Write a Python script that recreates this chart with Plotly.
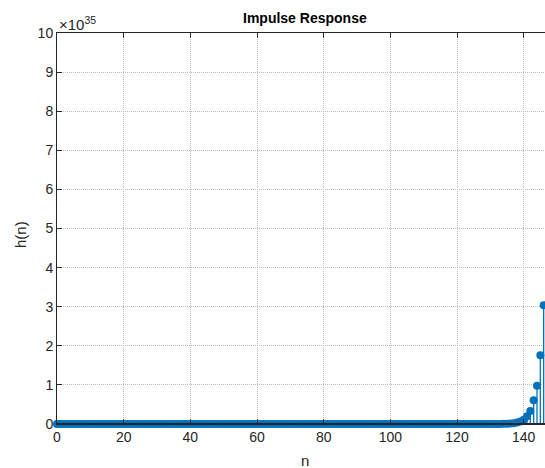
import plotly.graph_objects as go

# sample index n = 0..146
n = list(range(147))

# h(n) in units of 1e35 (early samples are ~0 at this scale)
h_scaled = [
    0, 0, 0, 0, 0, 0, 0, 0, 0, 0, 0, 0, 0, 0, 0,          # 0..14
    0, 0, 0, 0, 0, 0, 0, 0, 0, 0, 0, 0, 0, 0, 0,          # 15..29
    0, 0, 0, 0, 0, 0, 0, 0, 0, 0, 0, 0, 0, 0, 0,          # 30..44
    0, 0, 0, 0, 0, 0, 0, 0, 0, 0, 0, 0, 0, 0, 0,          # 45..59
    0, 0, 0, 0, 0, 0, 0, 0, 0, 0, 0, 0, 0, 0, 0,          # 60..74
    0, 0, 0, 0, 0, 0, 0, 0, 0, 0, 0, 0, 0, 0, 0,          # 75..89
    0, 0, 0, 0, 0, 0, 0, 0, 0, 0, 0, 0, 0, 0, 0,          # 90..104
    0, 0, 0, 0, 0, 0, 0, 0, 0, 0, 0, 0, 0, 0, 0,          # 105..119
    0, 0, 0, 0, 0, 0, 0, 0, 0, 0, 0, 0, 0, 0.002, 0.004,  # 120..134
    0.007, 0.013, 0.022, 0.038, 0.065, 0.11,              # 135..140
    0.2, 0.33, 0.61, 0.98, 1.76, 3.04,                    # 141..146
]
h = [v * 1e35 for v in h_scaled]

y_tick_vals = list(range(0, 11))
y_tick_labels = [str(v) for v in y_tick_vals]
x_tick_vals = [0, 20, 40, 60, 80, 100, 120, 140]
x_limits = [0, 150]

blue = "#0072BD"
axc = "#262626"
font = "Liberation Sans, Arial, Helvetica, sans-serif"

# stems built from data
sx, sy = [], []
for xi, yi in zip(n, h_scaled):
    sx += [xi, xi, None]
    sy += [0, yi, None]

fig = go.Figure()
fig.add_trace(go.Scatter(x=sx, y=sy, mode="lines", line=dict(color=blue, width=1.3),
                         hoverinfo="skip", showlegend=False, cliponaxis=False))
fig.add_trace(go.Scatter(x=n, y=h_scaled, mode="markers",
                         marker=dict(color=blue, size=8, line=dict(width=0)),
                         showlegend=False, cliponaxis=False,
                         customdata=h, hovertemplate="n=%{x}<br>h=%{customdata:.3g}<extra></extra>"))
fig.add_trace(go.Scatter(x=x_limits, y=[0, 0], mode="lines", line=dict(color=axc, width=2),
                         hoverinfo="skip", showlegend=False, cliponaxis=True))

# The original axes extend past the right edge of the window (cropped), so the
# figure is made wider than the window on purpose; the page hides the overflow.
L, T = 57, 33
pw = 500          # 150 units * ~3.333 px
W = L + pw
R = 0
H = 468
B = H - 424
ph = H - T - B


def px_x(x):  # window x pixel -> paper coord
    return (x - L) / pw


def px_y(y):  # window y pixel -> paper coord
    return (T + ph - y) / ph


fig.update_layout(
    width=W, height=H,
    margin=dict(l=L, r=R, t=T, b=B, autoexpand=False),
    paper_bgcolor="white", plot_bgcolor="white",
    font=dict(family=font, size=13, color=axc),
    xaxis=dict(range=x_limits, tickvals=x_tick_vals, ticks="inside", ticklen=5,
               tickcolor=axc, showline=True, linecolor=axc, linewidth=1, mirror="ticks",
               showgrid=True, gridcolor="#bdbdbd", griddash="1px,1px", gridwidth=1,
               zeroline=False, automargin=False, tickfont=dict(size=14, color=axc)),
    yaxis=dict(range=[0, 10], tickvals=y_tick_vals, ticktext=y_tick_labels,
               ticks="inside", ticklen=5, tickcolor=axc, showline=True, linecolor=axc,
               linewidth=1, mirror="ticks", showgrid=True, gridcolor="#bdbdbd",
               griddash="1px,1px", gridwidth=1, zeroline=False, automargin=False,
               tickfont=dict(size=14, color=axc)),
    annotations=[
        dict(text="<b>Impulse Response</b>", xref="paper", yref="paper",
             x=px_x(305), y=px_y(18), xanchor="center", yanchor="middle",
             showarrow=False, font=dict(size=14, color="black", family=font)),
        dict(text="×10<sup>35</sup>", xref="paper", yref="paper",
             x=px_x(57), y=px_y(23), xanchor="left", yanchor="middle",
             showarrow=False, font=dict(size=15, color=axc, family=font)),
        dict(text="n", xref="paper", yref="paper",
             x=px_x(305), y=px_y(460), xanchor="center", yanchor="middle",
             showarrow=False, font=dict(size=15, color=axc, family=font)),
        dict(text="h(n)", xref="paper", yref="paper", textangle=-90,
             x=px_x(20), y=px_y(235), xanchor="center", yanchor="middle",
             showarrow=False, font=dict(size=15, color=axc, family=font)),
    ],
)

page_css = ("document.documentElement.style.overflow='hidden';"
            "document.body.style.margin='0px';"
            "document.body.style.overflow='hidden';")

fig.write_html("out.html", post_script=page_css, config={"displayModeBar": False})
